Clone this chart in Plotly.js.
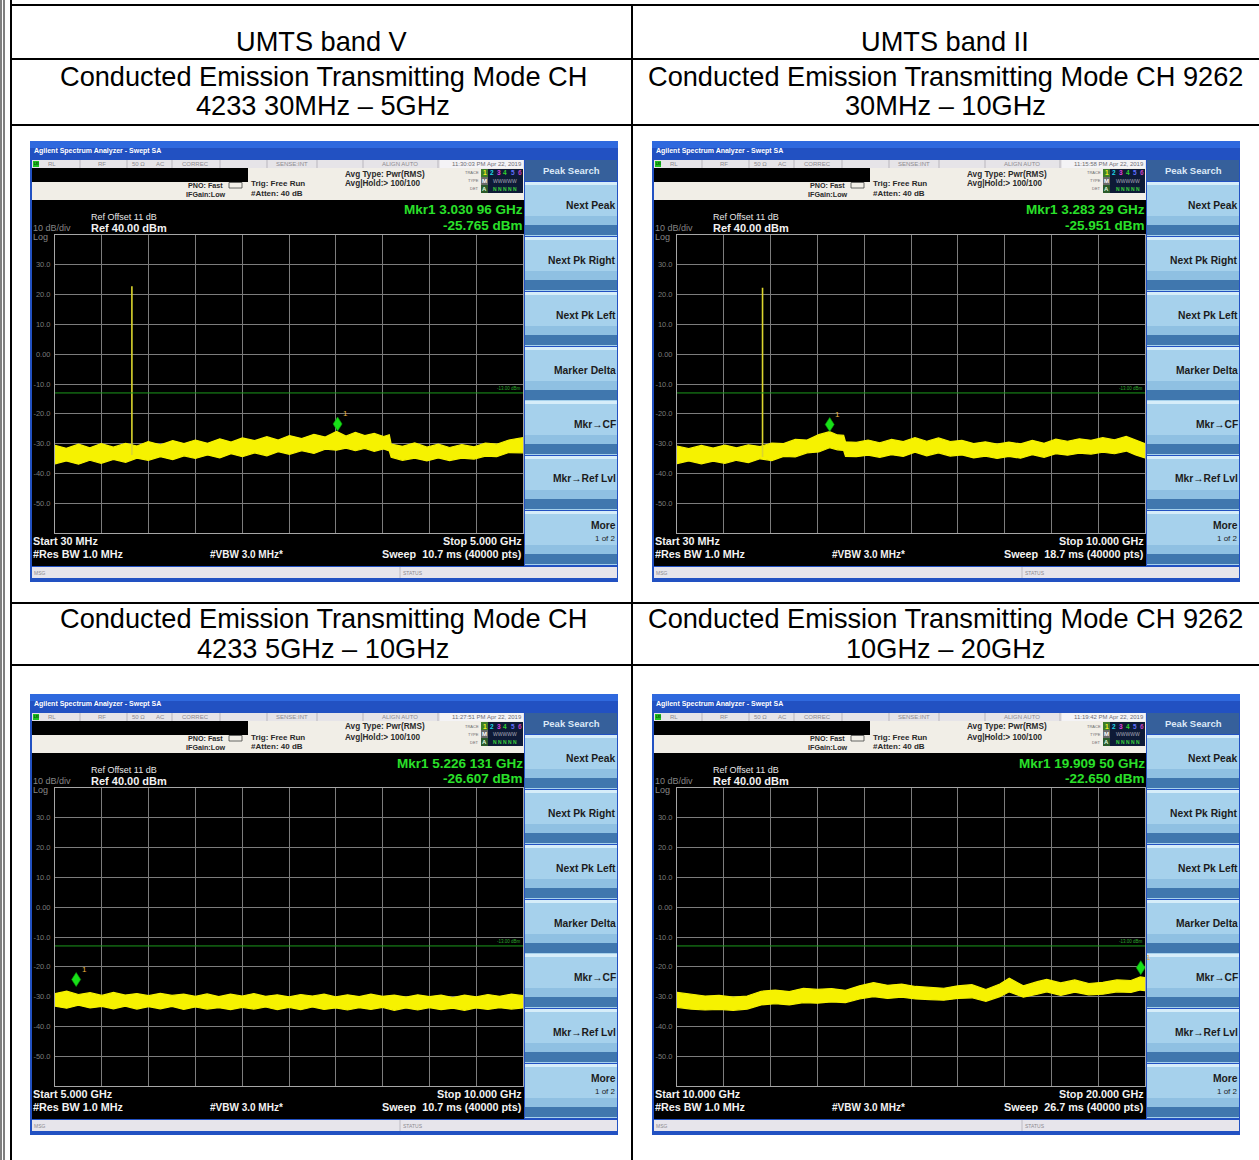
<!DOCTYPE html>
<html><head><meta charset="utf-8">
<script src="https://cdn.plot.ly/plotly-3.0.1.min.js"></script>
<style>html,body{margin:0;padding:0;background:#fff}#chart{width:1259px;height:1160px}</style>
</head><body><div id="chart"></div>
<script>
// ---------------- DATA ----------------
// Panel A: UMTS band V, CH 4233, 30 MHz - 5 GHz (GHz / dBm)
const aFreq  = [0.03,0.15,0.28,0.40,0.52,0.65,0.78,0.90,1.02,1.15,1.28,1.40,1.52,1.65,1.78,1.90,2.02,2.15,2.28,2.40,2.52,2.65,2.78,2.90,3.02,3.12,3.22,3.32,3.42,3.52,3.58,3.60,3.72,3.85,3.98,4.10,4.22,4.35,4.48,4.60,4.72,4.85,5.00];
const aUpper = [-30.6,-31.6,-30.2,-31.4,-30.0,-31.2,-29.9,-30.8,-29.3,-30.4,-29.0,-30.0,-28.8,-29.9,-28.4,-29.5,-28.1,-29.0,-27.7,-28.8,-27.3,-28.3,-26.9,-27.8,-25.9,-27.5,-26.2,-27.3,-26.6,-27.6,-27.0,-30.2,-30.9,-29.8,-31.2,-30.2,-31.3,-30.3,-31.1,-29.8,-30.2,-28.8,-28.0];
const aLower = [-36.8,-35.8,-36.9,-35.6,-36.6,-35.3,-36.3,-34.9,-35.6,-34.4,-35.4,-34.1,-35.0,-33.8,-34.8,-33.4,-34.4,-33.1,-34.1,-32.7,-33.6,-32.4,-33.3,-31.9,-32.2,-31.5,-32.4,-31.6,-32.6,-31.8,-32.5,-34.6,-35.6,-34.9,-35.8,-34.8,-35.7,-34.9,-35.2,-34.2,-34.4,-33.0,-33.1];
const aSpikeX = [0.8466,0.8466];
const aSpikeY = [-33.8,22.8];
const aMarker = [3.03096,-25.765];

// Panel B: UMTS band II, CH 9262, 30 MHz - 10 GHz
const bFreq  = [0.03,0.28,0.55,0.80,1.05,1.30,1.55,1.80,2.05,2.30,2.55,2.80,3.05,3.28,3.45,3.58,3.62,3.85,4.10,4.35,4.60,4.85,5.10,5.35,5.60,5.85,6.10,6.35,6.60,6.85,7.10,7.35,7.60,7.85,8.10,8.35,8.60,8.85,9.10,9.35,9.60,9.80,10.0];
const bUpper = [-30.8,-31.7,-30.6,-31.5,-30.5,-31.4,-30.4,-31.0,-29.8,-30.0,-28.6,-28.8,-27.0,-26.0,-27.1,-27.2,-29.4,-29.6,-28.8,-29.7,-28.6,-29.3,-28.0,-29.2,-28.1,-29.3,-28.9,-30.0,-29.4,-30.2,-29.5,-30.1,-28.9,-29.9,-28.5,-29.2,-28.4,-28.9,-28.0,-28.7,-27.6,-28.9,-30.0];
const bLower = [-36.7,-35.8,-36.8,-35.9,-36.6,-35.6,-36.4,-35.1,-35.7,-34.3,-34.5,-33.1,-32.8,-31.4,-32.1,-32.3,-34.3,-34.4,-33.9,-34.6,-33.7,-34.3,-32.9,-34.1,-33.1,-34.2,-33.8,-34.8,-34.2,-35.0,-34.3,-34.9,-33.7,-34.6,-33.4,-33.9,-33.2,-33.5,-32.9,-33.4,-32.5,-33.8,-34.8];
const bSpikeX = [1.8524,1.8524];
const bSpikeY = [-34.5,22.3];
const bMarker = [3.28329,-25.951];

// Panel C: UMTS band V, CH 4233, 5 GHz - 10 GHz
const cFreq  = [5.000,5.125,5.250,5.375,5.500,5.625,5.750,5.875,6.000,6.125,6.250,6.375,6.500,6.625,6.750,6.875,7.000,7.125,7.250,7.375,7.500,7.625,7.750,7.875,8.000,8.125,8.250,8.375,8.500,8.625,8.750,8.875,9.000,9.125,9.250,9.375,9.500,9.625,9.750,9.875,10.000];
const cUpper = [-29.0,-28.2,-29.3,-28.7,-29.6,-28.6,-29.5,-29.0,-29.7,-28.9,-29.6,-29.2,-29.9,-29.1,-30.0,-29.2,-29.8,-29.0,-29.9,-29.4,-30.1,-29.3,-29.8,-29.2,-30.1,-29.4,-30.0,-29.2,-29.9,-29.5,-30.2,-29.4,-30.0,-29.5,-30.3,-29.5,-30.1,-29.3,-29.9,-29.2,-29.7];
const cLower = [-33.2,-33.9,-32.9,-33.8,-33.3,-34.1,-33.2,-34.2,-33.4,-34.1,-33.3,-34.3,-33.5,-34.2,-33.7,-34.4,-33.6,-34.2,-33.5,-34.4,-33.6,-34.4,-33.5,-34.3,-33.8,-34.5,-33.7,-34.3,-33.6,-34.6,-33.8,-34.5,-33.7,-34.4,-33.9,-34.6,-33.8,-34.3,-33.7,-34.2,-33.8];
const cMarker = [5.226131,-26.607];

// Panel D: UMTS band II, CH 9262, 10 GHz - 20 GHz
const dFreq  = [10.0,10.3,10.6,10.9,11.2,11.5,11.8,12.1,12.4,12.7,13.0,13.3,13.6,13.9,14.2,14.5,14.8,15.1,15.4,15.7,16.0,16.3,16.6,16.9,17.1,17.4,17.7,17.9,18.2,18.5,18.8,19.1,19.4,19.7,19.9,20.0];
const dUpper = [-28.6,-29.3,-29.8,-29.6,-30.2,-29.8,-28.2,-27.8,-28.3,-27.2,-27.6,-27.3,-27.9,-26.4,-25.3,-26.2,-25.8,-26.6,-26.9,-27.2,-26.4,-26.0,-27.6,-25.8,-23.8,-26.4,-25.0,-24.2,-25.4,-24.4,-25.6,-25.2,-24.4,-24.6,-23.4,-23.6];
const dLower = [-33.6,-34.2,-34.5,-34.3,-34.6,-34.2,-32.8,-32.4,-32.8,-32.0,-32.2,-31.8,-32.0,-30.8,-30.0,-30.6,-30.2,-30.8,-31.0,-31.2,-30.6,-30.4,-31.6,-30.0,-28.4,-30.2,-29.2,-28.4,-29.6,-28.5,-29.4,-29.2,-28.4,-28.6,-27.8,-28.0];
const dMarker = [19.9095,-22.650];

const limitLevel = -13;
const refLevel = 40;
const yTickVals = [30,20,10,0,-10,-20,-30,-40,-50];
const yTickText = ["30.0","20.0","10.0","0.00","-10.0","-20.0","-30.0","-40.0","-50.0"];
const softkeys = ["Next Peak","Next Pk Right","Next Pk Left","Marker Delta","Mkr\u2192CF","Mkr\u2192Ref Lvl"];

const colTitles = ["UMTS band V","UMTS band II"];
const rowTitles = [
  ["Conducted Emission Transmitting Mode CH","4233 30MHz \u2013 5GHz"],
  ["Conducted Emission Transmitting Mode CH 9262","30MHz \u2013 10GHz"],
  ["Conducted Emission Transmitting Mode CH","4233 5GHz \u2013 10GHz"],
  ["Conducted Emission Transmitting Mode CH 9262","10GHz \u2013 20GHz"]
];

const panelInfo = [
  {time:"11:30:03 PM Apr 22, 2019", mkrF:"Mkr1 3.030 96 GHz", mkrL:"-25.765 dBm", start:"Start 30 MHz", stop:"Stop 5.000 GHz", sweep:"Sweep  10.7 ms (40000 pts)", range:[0.03,5.0], freq:aFreq, up:aUpper, lo:aLower, spX:aSpikeX, spY:aSpikeY, mk:aMarker},
  {time:"11:15:58 PM Apr 22, 2019", mkrF:"Mkr1 3.283 29 GHz", mkrL:"-25.951 dBm", start:"Start 30 MHz", stop:"Stop 10.000 GHz", sweep:"Sweep  18.7 ms (40000 pts)", range:[0.03,10.0], freq:bFreq, up:bUpper, lo:bLower, spX:bSpikeX, spY:bSpikeY, mk:bMarker},
  {time:"11:27:51 PM Apr 22, 2019", mkrF:"Mkr1 5.226 131 GHz", mkrL:"-26.607 dBm", start:"Start 5.000 GHz", stop:"Stop 10.000 GHz", sweep:"Sweep  10.7 ms (40000 pts)", range:[5.0,10.0], freq:cFreq, up:cUpper, lo:cLower, spX:null, spY:null, mk:cMarker},
  {time:"11:19:42 PM Apr 22, 2019", mkrF:"Mkr1 19.909 50 GHz", mkrL:"-22.650 dBm", start:"Start 10.000 GHz", stop:"Stop 20.000 GHz", sweep:"Sweep  26.7 ms (40000 pts)", range:[10.0,20.0], freq:dFreq, up:dUpper, lo:dLower, spX:null, spY:null, mk:dMarker}
];

// ---------------- LAYOUT HELPERS ----------------
const W = 1259, H = 1160;
const FONT = 'Liberation Sans, Arial, Helvetica, sans-serif';
const px = x => x / W;
const py = y => 1 - y / H;
const shapes = [], annotations = [], traces = [];
const layout = {
  width: W, height: H, margin: {l:0, r:0, t:0, b:0, pad:0},
  paper_bgcolor: '#ffffff', plot_bgcolor: 'rgba(0,0,0,0)',
  showlegend: false, font: {family: FONT},
  shapes: shapes, annotations: annotations
};

function rect(x0, y0, x1, y1, fill, lc, lw, layer) {
  shapes.push({type:'rect', xref:'paper', yref:'paper', x0:px(x0), x1:px(x1), y0:py(y1), y1:py(y0),
    fillcolor: fill, line:{color: lc || 'rgba(0,0,0,0)', width: lw || 0}, layer: layer || 'below'});
}
function line(x0, y0, x1, y1, color, w, layer) {
  shapes.push({type:'line', xref:'paper', yref:'paper', x0:px(x0), x1:px(x1), y0:py(y0), y1:py(y1),
    line:{color: color, width: w}, layer: layer || 'above'});
}
function txt(x, y, s, size, color, anchor, family) {
  annotations.push({xref:'paper', yref:'paper', x:px(x), y:py(y), text:s, showarrow:false,
    xanchor: anchor || 'left', yanchor:'middle', borderpad:0, borderwidth:0,
    font:{family: family || FONT, size:size, color:color}});
}

// ---------------- TABLE ----------------
const TB = '#000000';
line(1, 0, 1, H, TB, 1);
line(4, 0, 4, H, TB, 1);
line(11, 0, 11, H, TB, 2);
[5, 59, 125, 603, 665].forEach(y => line(11, y, W, y, TB, 2));
line(632, 5, 632, H, TB, 2);

const TFS = 27.2;
txt(322, 41, colTitles[0], TFS, '#000', 'center');
txt(945, 41, colTitles[1], TFS, '#000', 'center');
txt(323, 76, rowTitles[0][0], TFS, '#000', 'center');
txt(323, 105, rowTitles[0][1], TFS, '#000', 'center');
txt(945, 76, rowTitles[1][0], TFS, '#000', 'center');
txt(945, 105, rowTitles[1][1], TFS, '#000', 'center');
txt(323, 618, rowTitles[2][0], TFS, '#000', 'center');
txt(323, 648, rowTitles[2][1], TFS, '#000', 'center');
txt(945, 618, rowTitles[3][0], TFS, '#000', 'center');
txt(945, 648, rowTitles[3][1], TFS, '#000', 'center');

// ---------------- SPECTRUM ANALYZER PANELS ----------------
const origins = [[30,141],[652,141],[30,694],[652,694]];

function buildPanel(n, ox, oy, p) {
  const xa = n === 1 ? 'x' : 'x' + n, ya = n === 1 ? 'y' : 'y' + n;
  const xk = n === 1 ? 'xaxis' : 'xaxis' + n, yk = n === 1 ? 'yaxis' : 'yaxis' + n;
  const X = v => ox + v, Y = v => oy + v;

  // window frame + title bar
  rect(X(0), Y(0), X(588), Y(441), '#2251c2');
  rect(X(0), Y(0), X(588), Y(7), '#2f69de');
  txt(X(4), Y(10), '<b>Agilent Spectrum Analyzer - Swept SA</b>', 7, '#ffffff');

  // status row
  rect(X(2), Y(19), X(494), Y(27), '#e6e4e8');
  rect(X(3), Y(20), X(9), Y(26), '#1fc21f');
  txt(X(4), Y(23), '<b>LXI</b>', 3, '#0a3a0a');
  [50, 97, 142, 190, 237, 287, 333, 408].forEach(v => line(X(v), Y(19), X(v), Y(27), '#b9b6bd', 1, 'below'));
  const st = [[18,'RL'],[68,'RF'],[102,'50 \u03a9'],[126,'AC'],[152,'CORREC'],[246,'SENSE:INT'],[352,'ALIGN AUTO']];
  st.forEach(s => txt(X(s[0]), Y(23), s[1], 6, '#8c8a90'));
  rect(X(410), Y(19), X(493), Y(27), '#f4f3f6');
  txt(X(492), Y(23), p.time, 6, '#6e6c74', 'right');

  // settings area
  rect(X(2), Y(27), X(494), Y(59), '#f1eee7');
  rect(X(2), Y(27), X(218), Y(41), '#000000');
  txt(X(158), Y(44), '<b>PNO: Fast</b>', 7.2, '#2a2a2a');
  rect(X(199), Y(41.5), X(212), Y(47), 'rgba(0,0,0,0)', '#444', 0.8);
  txt(X(156), Y(53.5), '<b>IFGain:Low</b>', 7.2, '#2a2a2a');
  txt(X(221), Y(43), '<b>Trig: Free Run</b>', 8, '#2a2a2a');
  txt(X(221), Y(52.5), '<b>#Atten: 40 dB</b>', 8, '#2a2a2a');
  txt(X(315), Y(33), '<b>Avg Type: Pwr(RMS)</b>', 8.2, '#2a2a2a');
  txt(X(315), Y(43), '<b>Avg|Hold:&gt; 100/100</b>', 8.2, '#2a2a2a');
  txt(X(449), Y(32), 'TRACE', 4, '#6a6a6a', 'right');
  txt(X(449), Y(40), 'TYPE', 4, '#6a6a6a', 'right');
  txt(X(449), Y(48), 'DET', 4, '#6a6a6a', 'right');
  rect(X(451), Y(28), X(493), Y(52), '#0e1a36');
  rect(X(451), Y(28), X(458), Y(36), '#3d7d2a');
  rect(X(451), Y(36), X(458), Y(44), '#6a6a6a');
  rect(X(451), Y(44), X(458), Y(52), '#2a5a2a');
  const tc = ['#f5f020','#20d8e8','#e040e0','#30d030','#6070ff','#c040c0'];
  ['1','2','3','4','5','6'].forEach((d, i) => txt(X(454.5 + i*7), Y(32), '<b>' + d + '</b>', 6.5, tc[i], 'center'));
  txt(X(454.5), Y(40), '<b>M</b>', 6, '#ffffff', 'center');
  txt(X(475.5), Y(40), 'WWWWW', 5, '#a8a8b8', 'center');
  txt(X(454.5), Y(48), '<b>A</b>', 6, '#e0ffe0', 'center');
  txt(X(475.5), Y(48), '<b>N N N N N</b>', 5, '#3cd23c', 'center');

  // display
  rect(X(2), Y(59), X(494), Y(425), '#000000');
  txt(X(61), Y(76), 'Ref Offset 11 dB', 9, '#e6e6e6');
  txt(X(61), Y(87), '<b>Ref 40.00 dBm</b>', 11, '#f2f2f2');
  txt(X(3), Y(87), '10 dB/div', 9, '#858585');
  txt(X(3), Y(96), 'Log', 9, '#858585');
  txt(X(493), Y(69), '<b>' + p.mkrF + '</b>', 13.5, '#2ae02a', 'right');
  txt(X(493), Y(84), '<b>' + p.mkrL + '</b>', 13.5, '#2ae02a', 'right');
  txt(X(3), Y(400), '<b>' + p.start + '</b>', 10.8, '#f2f2f2');
  txt(X(3), Y(413), '<b>#Res BW 1.0 MHz</b>', 10.8, '#f2f2f2');
  txt(X(180), Y(413), '<b>#VBW 3.0 MHz*</b>', 10, '#f2f2f2');
  txt(X(492), Y(400), '<b>' + p.stop + '</b>', 10.8, '#f2f2f2', 'right');
  txt(X(492), Y(413), '<b>' + p.sweep + '</b>', 10.8, '#f2f2f2', 'right');
  txt(X(491), Y(247), '-13.00 dBm', 4.5, '#2ea82e', 'right');

  // soft keys
  rect(X(495), Y(19), X(587), Y(40), '#36609b');
  txt(X(541), Y(29), '<b>Peak Search</b>', 9.5, '#dce9f7', 'center');
  const tops = [41, 96, 151, 206, 260, 315, 370];
  tops.forEach((t, i) => {
    rect(X(495), Y(t), X(587), Y(t + 54), '#a6d1ec');
    rect(X(495), Y(t), X(587), Y(t + 3), '#d6edf9');
    rect(X(495), Y(t + 34), X(587), Y(t + 43), '#8fc0e2');
    rect(X(495), Y(t + 43), X(587), Y(t + 53), '#4077ae');
    if (i < 6) {
      txt(X(586), Y(t + 23), '<b>' + softkeys[i] + '</b>', 10.3, '#1c1c1c', 'right');
    } else {
      txt(X(586), Y(t + 14), '<b>More</b>', 10.3, '#1c1c1c', 'right');
      txt(X(586), Y(t + 27), '1 of 2', 8, '#1c1c1c', 'right');
    }
  });

  // message bar
  rect(X(2), Y(426), X(587), Y(437), '#e7e5eb');
  line(X(370), Y(426), X(370), Y(437), '#bdbac2', 1, 'below');
  txt(X(4), Y(431.5), 'MSG', 5, '#8c8a90');
  txt(X(373), Y(431.5), 'STATUS', 5, '#8c8a90');

  // axes (graticule)
  const r0 = p.range[0], r1 = p.range[1];
  const xt = [];
  for (let i = 0; i <= 10; i++) xt.push(r0 + (r1 - r0) * i / 10);
  layout[xk] = {domain:[px(X(25)), px(X(493))], range:[r0, r1], anchor: ya,
    tickvals: xt, showticklabels:false, ticks:'', showgrid:true, gridcolor:'#7c7c7c', gridwidth:1,
    zeroline:false, showline:true, linecolor:'#a6a6a6', linewidth:1, mirror:true, fixedrange:true};
  layout[yk] = {domain:[py(Y(392)), py(Y(94))], range:[-60, refLevel], anchor: xa,
    tickvals: yTickVals, ticktext: yTickText, tickfont:{size:7.5, color:'#7a7a7a', family:FONT},
    ticks:'', ticklabelstandoff:2, showgrid:true, gridcolor:'#7c7c7c', gridwidth:1,
    zeroline:false, showline:true, linecolor:'#a6a6a6', linewidth:1, mirror:true, fixedrange:true};

  // limit line
  shapes.push({type:'line', xref:xa, yref:ya, x0:r0, x1:r1, y0:limitLevel, y1:limitLevel,
    line:{color:'#1c9a1c', width:1}, layer:'above'});

  // trace band
  traces.push({x:p.freq, y:p.lo, xaxis:xa, yaxis:ya, mode:'lines', line:{color:'#f6f200', width:1.2}, hoverinfo:'skip'});
  traces.push({x:p.freq, y:p.up, xaxis:xa, yaxis:ya, mode:'lines', fill:'tonexty', fillcolor:'#f6f200',
    line:{color:'#f6f200', width:1.2}, hoverinfo:'skip'});
  if (p.spX) {
    traces.push({x:p.spX, y:p.spY, xaxis:xa, yaxis:ya, mode:'lines', line:{color:'#dcd62e', width:1.6}, hoverinfo:'skip'});
  }

  // marker diamond, tip at the marker level
  shapes.push({type:'path', xref:xa, yref:ya, xsizemode:'pixel', ysizemode:'pixel',
    xanchor:p.mk[0], yanchor:p.mk[1], path:'M0,0 L4.5,7 L0,14 L-4.5,7 Z',
    fillcolor:'#18e018', line:{color:'#0a9a0a', width:0.6}, layer:'above'});
  annotations.push({xref:xa, yref:ya, x:p.mk[0], y:p.mk[1], text:'1', showarrow:false,
    xshift:8, yshift:17, font:{family:FONT, size:8, color:'#e8b040'}});
}

panelInfo.forEach((p, i) => buildPanel(i + 1, origins[i][0], origins[i][1], p));

Plotly.newPlot('chart', traces, layout, {staticPlot:true, displayModeBar:false});
</script>
</body></html>
